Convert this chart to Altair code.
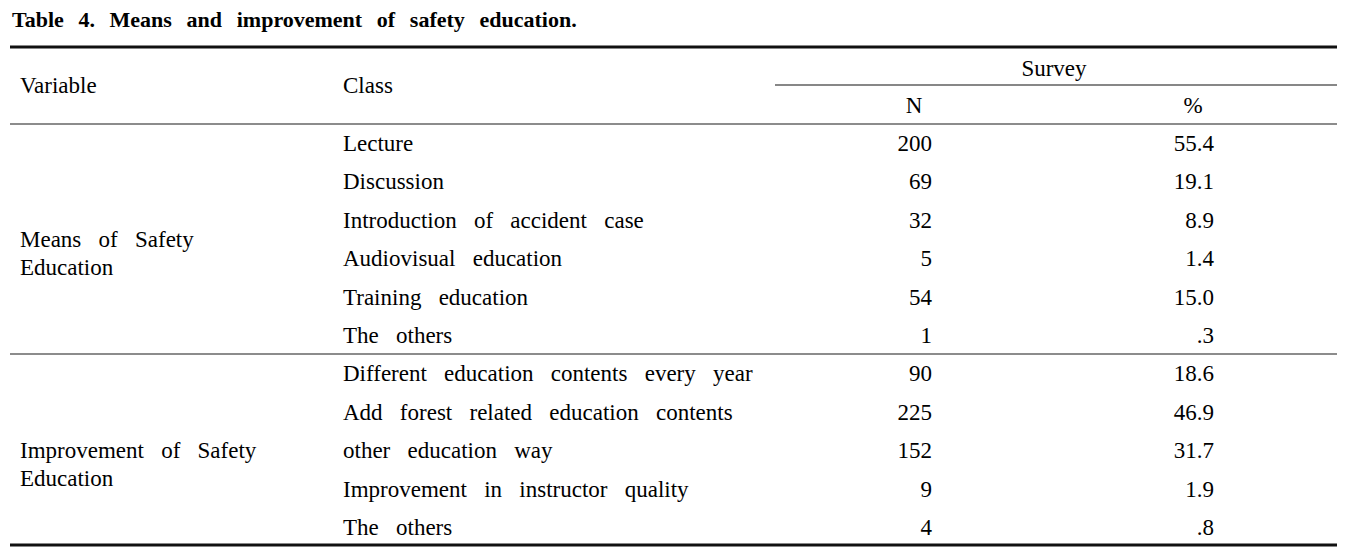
import altair as alt
import pandas as pd

# ---- table content ----
title_text = "Table 4. Means and improvement of safety education."
header_variable = "Variable"
header_class = "Class"
header_survey = "Survey"
header_n = "N"
header_pct = "%"

group_labels = ["Means of Safety\nEducation", "Improvement of Safety\nEducation"]
group_sizes = [6, 5]

classes = [
    "Lecture",
    "Discussion",
    "Introduction of accident case",
    "Audiovisual education",
    "Training education",
    "The others",
    "Different education contents every year",
    "Add forest related education contents",
    "other education way",
    "Improvement in instructor quality",
    "The others",
]
n_values = [200, 69, 32, 5, 54, 1, 90, 225, 152, 9, 4]
pct_labels = ["55.4", "19.1", "8.9", "1.4", "15.0", ".3", "18.6", "46.9", "31.7", "1.9", ".8"]


def sp(s):
    # wide word spacing as in the typeset original
    return s.replace(" ", "\u2002 ")


def sp_title(s):
    return s.replace(" ", "\u2002\u2006")


FONT = "Liberation Serif"
FS = 23
INK = "#000000"

rows = list(range(len(classes)))
body = pd.DataFrame({
    "row": rows,
    "cls": [sp(c) for c in classes],
    "n": [str(v) for v in n_values],
    "pct": pct_labels,
})

starts = [0]
for s in group_sizes[:-1]:
    starts.append(starts[-1] + s)
groups = pd.DataFrame({
    "row": [st + (sz - 1) / 2 for st, sz in zip(starts, group_sizes)],
    "label": [sp(g) for g in group_labels],
})

ys = alt.Scale(domain=[10.4948, -3.5417], nice=False, zero=False)
Y = lambda f: alt.Y(f, type="quantitative", scale=ys, axis=None)

def text_layer(df, field, x, align, bold=False, size=FS, baseline="middle"):
    return alt.Chart(df).mark_text(
        font=FONT, fontSize=size, color=INK, align=align, baseline=baseline,
        fontWeight="bold" if bold else "normal", lineBreak="\n", lineHeight=28,
    ).encode(x=alt.value(x), y=Y("row"), text=alt.Text(f"{field}:N"))

hdr_title = pd.DataFrame({"row": [-3.047], "t": [sp_title(title_text)]})
hdr_left = pd.DataFrame({"row": [-1.51], "t": [header_variable]})
hdr_class = pd.DataFrame({"row": [-1.51], "t": [header_class]})
hdr_survey = pd.DataFrame({"row": [-1.953], "t": [header_survey]})
hdr_n = pd.DataFrame({"row": [-0.99], "t": [header_n]})
hdr_pct = pd.DataFrame({"row": [-0.99], "t": [header_pct]})

def rule(r, x1, x2, w, color):
    return alt.Chart(pd.DataFrame({"row": [r]})).mark_rule(
        strokeWidth=w, color=color
    ).encode(x=alt.value(x1), x2=alt.value(x2), y=Y("row"))

layers = [
    text_layer(hdr_title, "t", 4, "left", bold=True, size=22, baseline="alphabetic"),
    rule(-2.526, 2, 1329, 3, "#111111"),
    text_layer(hdr_left, "t", 12, "left"),
    text_layer(hdr_class, "t", 335, "left"),
    text_layer(hdr_survey, "t", 1046, "center"),
    rule(-1.536, 767, 1329, 1.2, "#111111"),
    text_layer(hdr_n, "t", 906, "center"),
    text_layer(hdr_pct, "t", 1185, "center"),
    rule(-0.521, 2, 1329, 1.6, "#666666"),
    text_layer(groups, "label", 12, "left"),
    text_layer(body, "cls", 335, "left"),
    text_layer(body, "n", 924, "right"),
    text_layer(body, "pct", 1206, "right"),
    rule(5.469, 2, 1329, 1.6, "#666666"),
    rule(10.443, 2, 1329, 3, "#111111"),
]

chart = alt.layer(*layers).properties(
    width=1340, height=539, padding=0, autosize="none"
).configure_view(stroke=None)

chart.save("out.html", embed_options={"renderer": "svg", "actions": False})
